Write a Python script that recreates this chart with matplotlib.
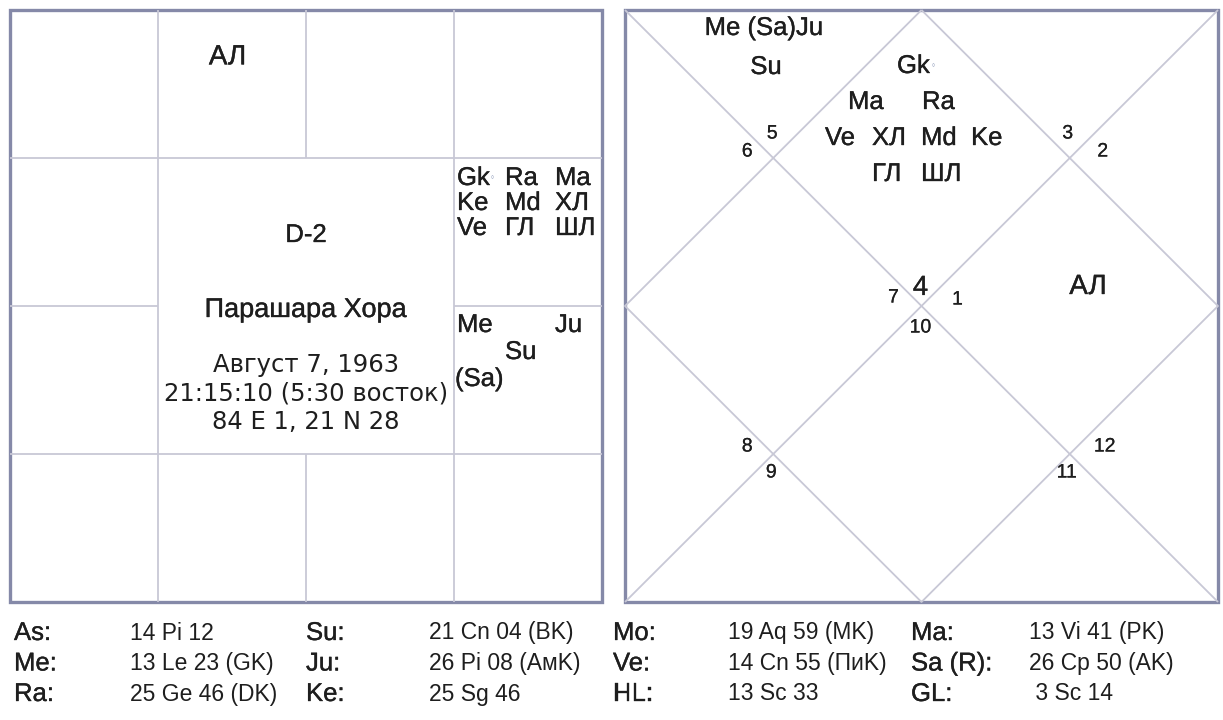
import matplotlib
matplotlib.use("Agg")
import matplotlib.pyplot as plt
import matplotlib.patheffects as pe

# --- chart data ---
title = "D-2"
subtitle = "Парашара Хора"
birth_info = ["Август 7, 1963", "21:15:10 (5:30 восток)", "84 E 1, 21 N 28"]

# south indian chart (left), contents per sign cell
aries_cell = ["АЛ"]
cancer_cell = [["Gk", "Ra", "Ma"], ["Ke", "Md", "ХЛ"], ["Ve", "ГЛ", "ШЛ"]]
leo_cell = ["Me", "Ju", "Su", "(Sa)"]

# north indian chart (right)
house_signs = [4, 5, 6, 7, 8, 9, 10, 11, 12, 1, 2, 3]
house1_rows = [["Gk"], ["Ma", "Ra"], ["Ve", "ХЛ", "Md", "Ke"], ["ГЛ", "ШЛ"]]
house2_rows = ["Me (Sa)Ju", "Su"]
house10_rows = ["АЛ"]

# positions table under the charts
labels = [["As:", "Su:", "Mo:", "Ma:"],
          ["Me:", "Ju:", "Ve:", "Sa (R):"],
          ["Ra:", "Ke:", "HL:", "GL:"]]
values = [["14 Pi 12", "21 Cn 04 (BK)", "19 Aq 59 (MK)", "13 Vi 41 (PK)"],
          ["13 Le 23 (GK)", "26 Pi 08 (AмK)", "14 Cn 55 (ПиK)", "26 Cp 50 (AK)"],
          ["25 Ge 46 (DK)", "25 Sg 46", "13 Sc 33", " 3 Sc 14"]]

# --- style ---
FONT = ["Liberation Sans", "DejaVu Sans"]
INK = "#1e1e1e"
EDGE = "#8589a8"
GRID = "#c8c8d6"

W, H = 1223, 720
fig = plt.figure(figsize=(W / 100, H / 100), dpi=100)
ax = fig.add_axes([0, 0, 1, 1])
ax.set_xlim(0, W)
ax.set_ylim(H, 0)
ax.axis("off")


def txt(x, y, s, size=18.5, ha="left", va="center", family=FONT, stroke=0.25):
    fx = [pe.withStroke(linewidth=stroke, foreground=INK)] if stroke else None
    ax.text(x, y, s, fontsize=size, ha=ha, va=va, color=INK, family=family,
            path_effects=fx)


def mark(x, y):
    # the little circle after Gk
    ax.text(x, y, "◦", fontsize=6, ha="left", va="center", color="#7080a8")


def line(xs, ys, c=GRID, lw=1.3):
    ax.plot(xs, ys, color=c, lw=lw, solid_capstyle="butt")


# ---------- left: south indian chart ----------
lx, ly, cell = 10, 10, 148
s = 4 * cell
for k in (1, 3):
    line([lx + k * cell] * 2, [ly, ly + s])
    line([lx, lx + s], [ly + k * cell] * 2)
line([lx + 2 * cell] * 2, [ly, ly + cell])
line([lx + 2 * cell] * 2, [ly + 3 * cell, ly + s])
line([lx, lx + cell], [ly + 2 * cell] * 2)
line([lx + 3 * cell, lx + s], [ly + 2 * cell] * 2)
ax.add_patch(plt.Rectangle((lx, ly), s, s, fill=False, ec=EDGE, lw=2.4))

# aries cell (col 1, row 0)
txt(lx + 1.47 * cell, ly + 0.32 * cell, aries_cell[0], size=20, ha="center")

# center text
cx = lx + 2 * cell
txt(cx, 235, title, size=18.5, ha="center")
txt(cx, 310, subtitle, size=19.5, ha="center")
for i, t in enumerate(birth_info):
    txt(cx, 365 + i * 28.5, t, size=17.5, ha="center", family=["DejaVu Sans"], stroke=0)

# cancer cell (col 3, row 1)
cxs = [457, 505, 555]
for r, row in enumerate(cancer_cell):
    for c, name in enumerate(row):
        txt(cxs[c], 178 + r * 25, name)
mark(490, 178)

# leo cell (col 3, row 2)
txt(457, 325, leo_cell[0])
txt(555, 325, leo_cell[1])
txt(505, 352, leo_cell[2])
txt(455, 379, leo_cell[3])

# ---------- right: north indian chart ----------
rx0, ry0, rx1, ry1 = 625, 10, 1218, 602
rxm, rym = (rx0 + rx1) / 2, (ry0 + ry1) / 2
line([rx0, rx1], [ry0, ry1])
line([rx0, rx1], [ry1, ry0])
line([rxm, rx1, rxm, rx0, rxm], [ry0, rym, ry1, rym, ry0])
ax.add_patch(plt.Rectangle((rx0, ry0), rx1 - rx0, ry1 - ry0, fill=False, ec=EDGE, lw=2.4))

qx, qy = (rx1 - rx0) / 4, (ry1 - ry0) / 4
tl = (rx0 + qx, ry0 + qy)
tr = (rx1 - qx, ry0 + qy)
bl = (rx0 + qx, ry1 - qy)
br = (rx1 - qx, ry1 - qy)
ctr = (rxm, rym)
# house number -> (anchor point, offset)
num_pos = [(ctr, (-1, -18)), (tl, (-1, -24)), (tl, (-26, -6)), (ctr, (-28, -8)),
           (bl, (-26, -7)), (bl, (-2, 19)), (ctr, (-1, 22)), (br, (-3, 19)),
           (br, (35, -7)), (ctr, (36, -6)), (tr, (33, -6)), (tr, (-2, -24))]
for h, sign in enumerate(house_signs):
    (px, py), (dx, dy) = num_pos[h]
    txt(px + dx, py + dy, str(sign), size=20 if h == 0 else 14, ha="center", stroke=0.15)

# house 1 (top diamond)
h1_x = [[897], [848, 922], [825, 872, 921, 971], [872, 921]]
h1_y = [66, 102, 138, 174]
for r, row in enumerate(house1_rows):
    for c, name in enumerate(row):
        txt(h1_x[r][c], h1_y[r], name)
mark(931, 66)

# house 2 (top-left triangle)
txt(764, 28, house2_rows[0], ha="center")
txt(766, 67, house2_rows[1], ha="center")

# house 10 (right diamond)
txt(1088, 287, house10_rows[0], size=20, ha="center")

# ---------- bottom table ----------
lab_x = [14, 306, 613, 911]
val_x = [130, 429, 728, 1029]
for r in range(3):
    y = 633 + r * 30.5
    for c in range(4):
        txt(lab_x[c], y, labels[r][c], size=18.5)
        txt(val_x[c], y, values[r][c], size=16.5, stroke=0)

fig.savefig("out.png", dpi=100, facecolor="white")
